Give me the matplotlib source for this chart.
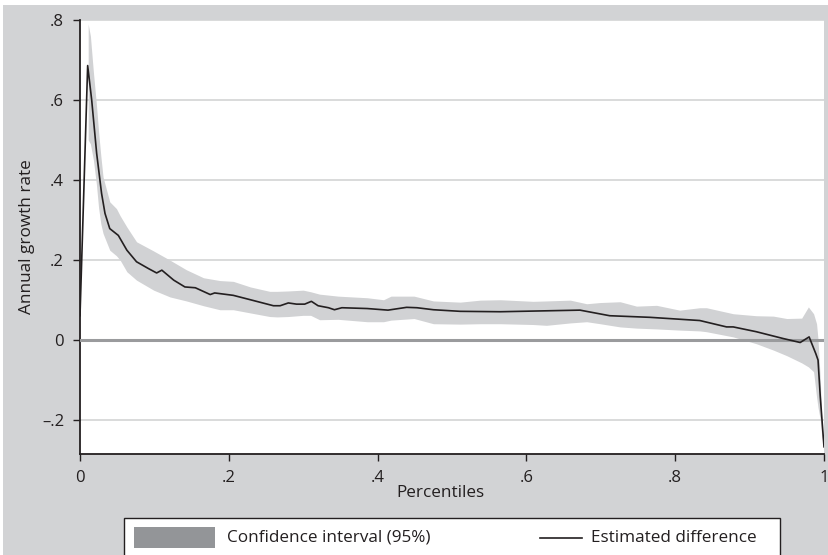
#!/usr/bin/env python3
# -*- coding: utf-8 -*-
"""
Estimated difference in annual growth rate by percentile, with 95% CI band.
"""

import numpy as np
import matplotlib
matplotlib.use("Agg")
import matplotlib.pyplot as plt
import matplotlib.patches as patches
from matplotlib.lines import Line2D

### set rcParams
config = {
    "font.family": ["Open Sans", "DejaVu Sans"],
    "font.size": 12,
}
plt.rcParams.update(config)

### data
# estimated difference
pct_line = [0.000, 0.0103, 0.0157, 0.0224, 0.029, 0.0336, 0.040, 0.0515, 0.063,
            0.076, 0.092, 0.103, 0.110, 0.126, 0.141, 0.155, 0.175, 0.181,
            0.206, 0.229, 0.260, 0.269, 0.280, 0.291, 0.302, 0.311, 0.320,
            0.334, 0.342, 0.352, 0.386, 0.414, 0.439, 0.453, 0.475, 0.511,
            0.565, 0.672, 0.712, 0.766, 0.833, 0.869, 0.878, 0.909, 0.945,
            0.968, 0.980, 0.989, 0.992, 0.995, 1.000]
est = [0.060, 0.686, 0.600, 0.466, 0.366, 0.316, 0.278, 0.261, 0.224,
       0.195, 0.178, 0.167, 0.174, 0.149, 0.132, 0.130, 0.113, 0.117,
       0.111, 0.100, 0.085, 0.085, 0.092, 0.089, 0.089, 0.096, 0.085,
       0.080, 0.075, 0.080, 0.078, 0.074, 0.081, 0.080, 0.075, 0.071,
       0.070, 0.074, 0.060, 0.056, 0.048, 0.032, 0.032, 0.020, 0.003,
       -0.007, 0.007, -0.035, -0.051, -0.143, -0.268]

# confidence interval (95%)
pct_ci = [0.011, 0.014, 0.018, 0.022, 0.025, 0.028, 0.031, 0.040, 0.049, 0.054,
          0.063, 0.076, 0.099, 0.121, 0.143, 0.166, 0.188, 0.206, 0.229, 0.255,
          0.265, 0.280, 0.300, 0.310, 0.322, 0.347, 0.386, 0.408, 0.418, 0.449,
          0.475, 0.511, 0.538, 0.565, 0.609, 0.627, 0.659, 0.681, 0.699, 0.726,
          0.748, 0.775, 0.806, 0.833, 0.842, 0.878, 0.909, 0.932, 0.950, 0.970,
          0.979, 0.986, 0.990, 0.992, 0.995, 0.997, 1.000]
ci_lo = [0.500, 0.490, 0.450, 0.390, 0.330, 0.290, 0.266, 0.224, 0.210, 0.199,
         0.170, 0.149, 0.124, 0.107, 0.097, 0.085, 0.075, 0.075, 0.067, 0.058,
         0.057, 0.058, 0.061, 0.061, 0.050, 0.051, 0.045, 0.045, 0.049, 0.053,
         0.040, 0.039, 0.040, 0.040, 0.038, 0.036, 0.042, 0.045, 0.040, 0.032,
         0.029, 0.027, 0.024, 0.022, 0.020, 0.007, -0.010, -0.026, -0.040, -0.058,
         -0.068, -0.080, -0.143, -0.170, -0.200, -0.243, -0.268]
ci_hi = [0.790, 0.760, 0.670, 0.590, 0.520, 0.460, 0.407, 0.345, 0.328, 0.310,
         0.282, 0.245, 0.222, 0.199, 0.175, 0.155, 0.148, 0.146, 0.132, 0.121,
         0.121, 0.122, 0.124, 0.120, 0.114, 0.109, 0.105, 0.100, 0.109, 0.109,
         0.097, 0.094, 0.099, 0.100, 0.096, 0.097, 0.099, 0.090, 0.093, 0.095,
         0.084, 0.086, 0.074, 0.080, 0.080, 0.065, 0.060, 0.059, 0.053, 0.054,
         0.082, 0.065, 0.040, 0.000, -0.100, -0.200, -0.268]

xticks = [0, 0.2, 0.4, 0.6, 0.8, 1.0]
xticklabels = ['0', '.2', '.4', '.6', '.8', '1']
yticks = [-0.2, 0, 0.2, 0.4, 0.6, 0.8]
yticklabels = ['\u2013.2', '0', '.2', '.4', '.6', '.8']

# colours
bg_grey = '#d2d3d5'
band_grey = '#d1d2d4'
patch_grey = '#939598'
ink = '#231f20'

W, H = 829, 555
def fx(px):
    return px / W
def fy(py):
    return 1 - py / H

### Create drawing objects
fig = plt.figure(figsize=(W / 100, H / 100), dpi=100, facecolor='white')

# grey graph region (thin white border on the left and top)
fig.patches.append(patches.Rectangle((fx(3), 0), 1 - fx(3), fy(5), transform=fig.transFigure,
                                     facecolor=bg_grey, edgecolor='none', zorder=-10))

ax0 = fig.add_axes([fx(80), fy(454), fx(824) - fx(80), fy(20) - fy(454)])
ax0.set_facecolor('white')
ax0.set_zorder(1)

# grid
for yv in yticks:
    if yv == 0:
        continue
    ax0.axhline(yv, color='#d9dadb', lw=1.4, zorder=1)

# CI band
ax0.fill_between(pct_ci, ci_lo, ci_hi, color=band_grey, lw=0, zorder=2)
# zero line
ax0.axhline(0, color='#9a9b9d', lw=2.2, zorder=3)
# estimate
ax0.plot(pct_line, est, color=ink, lw=1.2, zorder=4)

ax0.set_xlim(0, 1)
ax0.set_ylim(-0.286, 0.8)
ax0.set_xticks(xticks)
ax0.set_xticklabels(xticklabels)
ax0.set_yticks(yticks)
ax0.set_yticklabels(yticklabels)
ax0.tick_params(direction='out', length=5, width=1, color=ink, labelcolor=ink,
                labelsize=12, pad=6.5)

for side in ['top', 'right']:
    ax0.spines[side].set_visible(False)
for side in ['left', 'bottom']:
    ax0.spines[side].set_color(ink)
    ax0.spines[side].set_linewidth(1.3)

# axis titles
fig.text(fx(27), fy(237), 'Annual growth rate', rotation=90, ha='center', va='center',
         fontsize=12.3, color=ink)
fig.text(fx(440), fy(493), 'Percentiles', ha='center', va='center', fontsize=12.3, color=ink)

### legend box
fig.patches.append(patches.Rectangle((fx(124), fy(570)), fx(780) - fx(124), fy(518) - fy(570),
                                     transform=fig.transFigure, facecolor='white',
                                     edgecolor=ink, lw=1.0, zorder=5))
fig.patches.append(patches.Rectangle((fx(134), fy(548)), fx(215) - fx(134), fy(527) - fy(548),
                                     transform=fig.transFigure, facecolor=patch_grey,
                                     edgecolor='none', zorder=6))
fig.text(fx(227), fy(538), 'Confidence interval (95%)', ha='left', va='center',
         fontsize=12.3, color=ink, zorder=7)
fig.lines.append(Line2D([fx(540), fx(582)], [fy(538), fy(538)], transform=fig.transFigure,
                        color=ink, lw=1.2, zorder=7))
fig.text(fx(591), fy(538), 'Estimated difference', ha='left', va='center',
         fontsize=12.3, color=ink, zorder=7)

# save figure
fig.savefig('out.png', dpi=100)
plt.close()
